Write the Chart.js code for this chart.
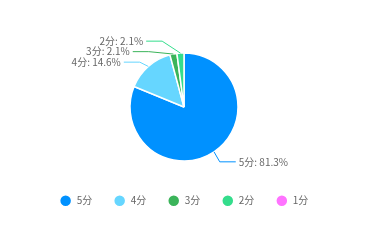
<!DOCTYPE html>
<html>
<head>
<meta charset="utf-8">
<script src="https://cdn.jsdelivr.net/npm/chart.js@4.4.1/dist/chart.umd.min.js"></script>
<style>
  html, body { margin: 0; padding: 0; background: #fff; }
  #wrap { width: 378px; height: 241px; }
</style>
</head>
<body>
<div id="wrap"><canvas id="chart"></canvas></div>
<script>
// Données
const labels = ['5分', '4分', '3分', '2分', '1分'];
const values = [81.3, 14.6, 2.1, 2.1, 0];
const colors = ['#0091ff', '#66d6ff', '#3bb45a', '#34dd8c', '#ff73ff'];

const FONT = '"Noto Sans CJK SC", "Noto Sans", sans-serif';

// Étiquettes avec lignes de rappel
const pieLabels = {
  id: 'pieLabels',
  afterDatasetsDraw(chart) {
    const ctx = chart.ctx;
    const meta = chart.getDatasetMeta(0);
    const items = [];
    meta.data.forEach((arc, i) => {
      if (!values[i]) return;
      const p = arc.getProps(['x', 'y', 'startAngle', 'endAngle', 'outerRadius'], true);
      const mid = (p.startAngle + p.endAngle) / 2;
      const cos = Math.cos(mid), sin = Math.sin(mid);
      items.push({
        i, cx: p.x, cy: p.y, r: p.outerRadius, cos, sin,
        right: cos >= 0,
        ey: p.y + sin * (p.outerRadius + 12)
      });
    });

    // éviter les chevauchements
    [true, false].forEach(side => {
      const list = items.filter(it => it.right === side).sort((a, b) => a.ey - b.ey);
      for (let k = 1; k < list.length; k++) {
        if (list[k].ey < list[k - 1].ey + 10.5) list[k].ey = list[k - 1].ey + 10.5;
      }
    });

    ctx.save();
    ctx.font = '10px ' + FONT;
    ctx.textBaseline = 'middle';
    items.forEach(it => {
      const dir = it.right ? 1 : -1;
      const dy = it.ey - it.cy;
      const R = it.r + 23.5;
      const sx = it.cx + it.cos * it.r;
      const sy = it.cy + it.sin * it.r;
      const tx = it.cx + dir * Math.sqrt(Math.max(R * R - dy * dy, 0));
      const lx = tx - dir * 3;
      const ex = lx - dir * 16;

      ctx.strokeStyle = colors[it.i];
      ctx.lineWidth = 1;
      ctx.beginPath();
      ctx.moveTo(sx, sy);
      ctx.lineTo(ex, it.ey);
      ctx.lineTo(lx, it.ey);
      ctx.stroke();

      ctx.fillStyle = '#666';
      ctx.textAlign = it.right ? 'left' : 'right';
      ctx.fillText(labels[it.i] + ': ' + values[it.i].toFixed(1) + '%', tx, it.ey);
    });
    ctx.restore();
  }
};

const ctx = document.getElementById('chart').getContext('2d');
new Chart(ctx, {
  type: 'pie',
  data: {
    labels: labels,
    datasets: [{
      data: values,
      backgroundColor: colors,
      borderColor: '#fff',
      borderWidth: 1.5,
      radius: 54
    }]
  },
  options: {
    responsive: true,
    maintainAspectRatio: false,
    animation: false,
    layout: { padding: { top: 39.8, bottom: 25.3, left: 0, right: 10 } },
    plugins: {
      legend: {
        position: 'bottom',
        labels: {
          usePointStyle: true,
          pointStyle: 'circle',
          boxHeight: 8.5,
          pointStyleWidth: 12,
          padding: 21.5,
          color: '#666',
          font: { family: FONT, size: 10 }
        }
      },
      tooltip: { enabled: false }
    }
  },
  plugins: [pieLabels]
});
</script>
</body>
</html>
